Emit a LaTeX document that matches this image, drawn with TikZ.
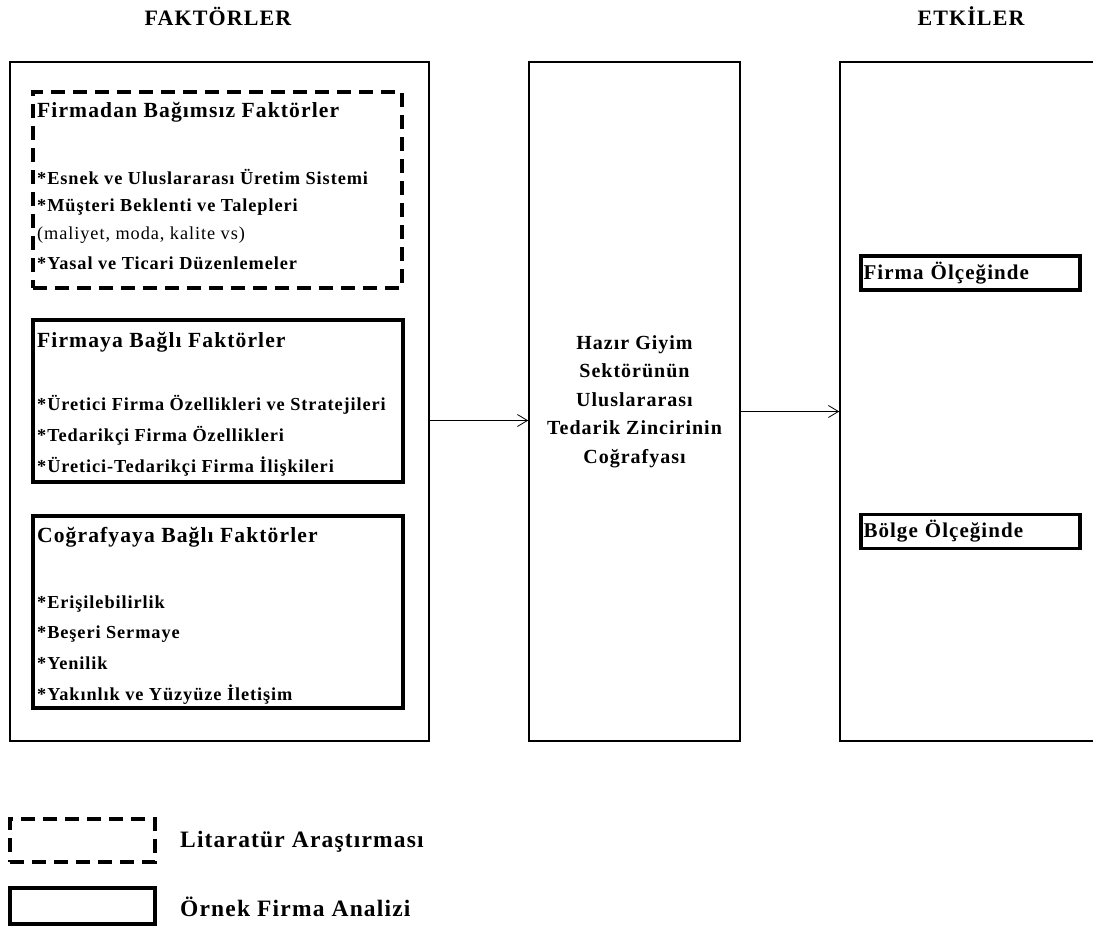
\documentclass[tikz,border=0pt]{standalone}
\usepackage{fontspec}
\setmainfont{Liberation Serif}[LetterSpace=5]
\usetikzlibrary{arrows.meta}

\tikzset{
  kutu/.style={draw, line width=1.6pt, inner sep=0pt},
  literatur/.style={draw, line width=3.4pt, dash pattern=on 14pt off 8pt, inner sep=0pt},
  ornek/.style={draw, line width=3.6pt, inner sep=0pt},
  ustbaslik/.style={inner sep=0pt, font=\fontsize{22}{22}\selectfont\bfseries},
  baslik/.style={anchor=base west, inner sep=0pt, font=\fontsize{21.6}{21.6}\selectfont\bfseries},
  madde/.style={anchor=base west, inner sep=0pt, font=\fontsize{18.3}{18.3}\selectfont\bfseries},
  aciklama/.style={anchor=west, inner sep=0pt, font=\fontsize{23.5}{23.5}\selectfont\bfseries},
  ok/.style={-{Straight Barb[length=10pt,width=12pt]}, line width=0.8pt}
}

\begin{document}
\begin{tikzpicture}[x=1pt,y=-1pt]
\useasboundingbox (0,0) rectangle (1093,928);
% ust basliklar
\node[ustbaslik] (faktorler) at (218,16) {FAKTÖRLER};
\node[ustbaslik] (etkiler) at (971,16) {ETKİLER};
% ana kutular
\node[kutu, minimum width=419pt, minimum height=679pt] (faktor) at (219.5,401.5) {};
\node[kutu, minimum width=211pt, minimum height=679pt, align=center,
  font=\fontsize{20}{28.5}\selectfont\bfseries] (zincir) at (634.5,401.5)
  {Hazır Giyim\\Sektörünün\\Uluslararası\\Tedarik Zincirinin\\Coğrafyası};
\node[kutu, minimum width=260pt, minimum height=679pt] (etki) at (970,401.5) {};
% faktor kutulari
\node[literatur, minimum width=369pt, minimum height=196pt] (bagimsiz) at (217.5,190) {};
\node[ornek, minimum width=370pt, minimum height=162pt] (firmaya) at (218,401) {};
\node[ornek, minimum width=370pt, minimum height=192pt] (cografya) at (218,612) {};
\node[baslik] (bagimsizb) at (37,118) {Firmadan Bağımsız Faktörler};
\node[madde] (esnek) at (37,185) {*Esnek ve Uluslararası Üretim Sistemi};
\node[madde] (musteri) at (37,212) {*Müşteri Beklenti ve Talepleri};
\node[madde, font=\fontsize{18.3}{18.3}\selectfont] (maliyet) at (37,240) {(maliyet, moda, kalite vs)};
\node[madde] (yasal) at (37,270) {*Yasal ve Ticari Düzenlemeler};
\node[baslik] (firmayab) at (37,347) {Firmaya Bağlı Faktörler};
\node[madde] (uretici) at (37,410) {*Üretici Firma Özellikleri ve Stratejileri};
\node[madde] (tedarikci) at (37,441) {*Tedarikçi Firma Özellikleri};
\node[madde] (iliski) at (37,472) {*Üretici-Tedarikçi Firma İlişkileri};
\node[baslik] (cografyab) at (37,542) {Coğrafyaya Bağlı Faktörler};
\node[madde] (erisim) at (37,608) {*Erişilebilirlik};
\node[madde] (beseri) at (37,638) {*Beşeri Sermaye};
\node[madde] (yenilik) at (37,669) {*Yenilik};
\node[madde] (yakinlik) at (37,700) {*Yakınlık ve Yüzyüze İletişim};
% etki kutulari
\node[ornek, minimum height=34pt, text width=214pt, inner xsep=2.5pt, align=left,
  font=\fontsize{21}{21}\selectfont\bfseries] (firmaolcek) at (970.5,273) {Firma Ölçeğinde};
\node[ornek, minimum height=34pt, text width=214pt, inner xsep=2.5pt, align=left,
  font=\fontsize{21}{21}\selectfont\bfseries] (bolgeolcek) at (970.5,531.5) {Bölge Ölçeğinde};
% oklar
\draw[ok] ([yshift=-19pt]faktor.east) -- ([yshift=-19pt]zincir.west);
\draw[ok] ([yshift=-10pt]zincir.east) -- ([yshift=-10pt]etki.west);
% aciklama
\node[literatur, minimum width=145pt, minimum height=43pt] (litkutu) at (82.5,840.5) {};
\node[aciklama] (lityazi) at (180,842) {Litaratür Araştırması};
\node[ornek, minimum width=145pt, minimum height=36pt] (ornkutu) at (82.5,906) {};
\node[aciklama] (ornyazi) at (180,907) {Örnek Firma Analizi};
\end{tikzpicture}
\end{document}
